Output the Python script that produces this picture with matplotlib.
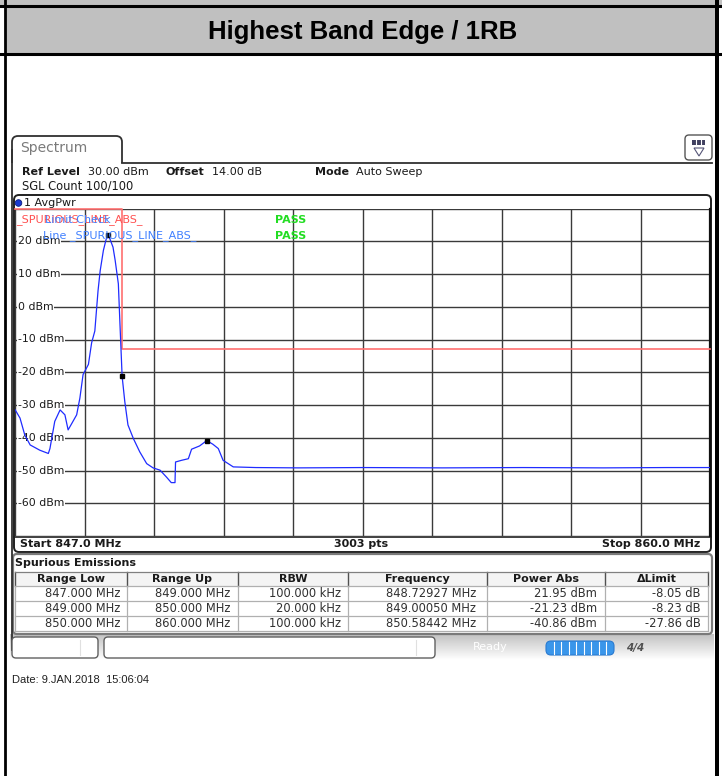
import numpy as np
import matplotlib
matplotlib.use("Agg")
import matplotlib.pyplot as plt
from matplotlib.patches import FancyBboxPatch, Rectangle, Circle, Polygon

W, H = 722, 776

# ---------------- data ----------------
title = "Highest Band Edge / 1RB"
freq_mhz = [847.00, 847.09, 847.18, 847.28, 847.46, 847.62, 847.65, 847.74, 847.84,
            847.93, 847.99, 848.06, 848.15, 848.21, 848.27, 848.37, 848.43, 848.49,
            848.52, 848.55, 848.59, 848.65, 848.70, 848.73, 848.77, 848.83, 848.87,
            848.93, 848.96, 849.0005, 849.05, 849.11, 849.21, 849.33, 849.46, 849.58,
            849.71, 849.83, 849.92, 849.99, 850.00, 850.11, 850.24, 850.30, 850.45,
            850.58442, 850.70, 850.80, 850.89, 851.08, 851.5, 852.3, 853.5, 855.0,
            856.5, 858.0, 859.2, 860.0]
power_dbm = [-31.5, -34.0, -39.2, -42.2, -43.8, -44.8, -43.3, -35.0, -31.5,
             -33.0, -37.6, -35.6, -33.0, -27.9, -20.7, -17.6, -11.0, -7.4,
             -1.2, 4.9, 11.0, 17.2, 20.5, 21.95, 20.8, 18.2, 14.2,
             7.0, -5.2, -21.23, -28.9, -36.1, -40.2, -44.3, -47.9, -49.2,
             -49.9, -52.0, -53.7, -53.7, -47.4, -46.9, -46.4, -43.5, -42.5,
             -40.86, -42.0, -43.3, -46.9, -48.9, -49.1, -49.2, -49.1, -49.2,
             -49.1, -49.2, -49.1, -49.1]
limit_freq = [847.0, 849.0, 849.0, 860.0]
limit_dbm = [30.0, 30.0, -13.0, -13.0]
marker_freq = [848.72927, 849.00050, 850.58442]
marker_dbm = [21.95, -21.23, -40.86]
y_ticks = [20, 10, 0, -10, -20, -30, -40, -50, -60]
y_tick_labels = ["20 dBm", "10 dBm", "0 dBm", "-10 dBm", "-20 dBm", "-30 dBm",
                 "-40 dBm", "-50 dBm", "-60 dBm"]
f_start, f_stop = 847.0, 860.0
ref_level, y_bottom = 30.0, -70.0

tbl_header = ["Range Low", "Range Up", "RBW", "Frequency", "Power Abs", "\u0394Limit"]
range_low = ["847.000 MHz", "849.000 MHz", "850.000 MHz"]
range_up = ["849.000 MHz", "850.000 MHz", "860.000 MHz"]
rbw = ["100.000 kHz", "20.000 kHz", "100.000 kHz"]
peak_freq = ["848.72927 MHz", "849.00050 MHz", "850.58442 MHz"]
power_abs = ["21.95 dBm", "-21.23 dBm", "-40.86 dBm"]
delta_limit = ["-8.05 dB", "-8.23 dB", "-27.86 dB"]

# ---------------- figure ----------------
fig = plt.figure(figsize=(W / 100, H / 100), dpi=100)
fig.patch.set_facecolor("white")
ax0 = fig.add_axes([0, 0, 1, 1])
ax0.set_xlim(0, W)
ax0.set_ylim(H, 0)
ax0.axis("off")

F = "DejaVu Sans"
A = "Liberation Sans"
FS = 8.0

# page frame / title bar
ax0.add_patch(Rectangle((0, 0), W, 7, color="#c0c0c0", lw=0))
ax0.add_patch(Rectangle((5, 7), 712, 47, color="#c0c0c0", lw=0))
ax0.plot([0, W], [6, 6], color="black", lw=2.2)
ax0.plot([0, W], [54, 54], color="black", lw=2.2)
ax0.plot([5, 5], [0, H], color="black", lw=2.0)
ax0.add_patch(Rectangle((715, 0), 4, H, color="black", lw=0, zorder=5))
ax0.text(363, 32, title, ha="center", va="center", fontsize=18.5, fontweight="bold",
         family=A, color="black")

# spectrum tab
tab = FancyBboxPatch((12, 136), 110, 40, boxstyle="round,pad=0,rounding_size=6",
                     fc="white", ec="#303030", lw=1.3)
ax0.add_patch(tab)
ax0.add_patch(Rectangle((10, 163), 704, 470, color="white", lw=0))
ax0.plot([122, 712], [162.5, 162.5], color="#303030", lw=1.3)
ax0.plot([12, 12], [150, 650], color="#303030", lw=1.3)
ax0.text(20, 148, "Spectrum", ha="left", va="center", fontsize=10, family=F, color="#7a7a7a")

# icon top right
ax0.add_patch(FancyBboxPatch((685, 135), 27, 25, boxstyle="round,pad=0,rounding_size=4",
                             fc="white", ec="#555555", lw=1.0))
ax0.add_patch(Rectangle((692, 140), 13, 5, color="#404060", lw=0))
for xs in (696.3, 700.6):
    ax0.plot([xs, xs], [140, 145], color="white", lw=0.8)
ax0.add_patch(Polygon([[694, 148], [704, 148], [699, 156]], closed=True, fc="white",
                      ec="#555577", lw=0.8))

# header info
def info(x, y, s, bold=False, **kw):
    ax0.text(x, y, s, ha=kw.pop("ha", "left"), va="center", fontsize=kw.pop("fs", FS),
             family=F, fontweight="bold" if bold else "normal",
             color=kw.pop("color", "#1a1a1a"), zorder=kw.pop("zorder", 3), **kw)

info(22, 172, "Ref Level", bold=True)
info(88, 172, "30.00 dBm")
info(166, 172, "Offset", bold=True)
info(212, 172, "14.00 dB")
info(315, 172, "Mode", bold=True)
info(356, 172, "Auto Sweep")
info(22, 186, "SGL Count 100/100", fs=8.3)

# diagram box
ax0.add_patch(FancyBboxPatch((14, 195), 697, 357, boxstyle="round,pad=0,rounding_size=5",
                             fc="white", ec="#202020", lw=1.4))
ax0.add_patch(Circle((18.5, 203), 3.3, fc="#1a3ad0", ec="#0a1a80", lw=0.6))
info(24, 203, "1 AvgPwr")
info(20, 544, "Start 847.0 MHz", bold=True)
info(361, 544, "3003 pts", bold=True, ha="center")
info(700, 544, "Stop 860.0 MHz", bold=True, ha="right")
ax0.plot([14, 711], [537, 537], color="#202020", lw=1.2)

# ---------------- main spectrum axes ----------------
L, R, T, B = 15.2, 710.0, 208.5, 536.0
ax = fig.add_axes([L / W, 1 - B / H, (R - L) / W, (B - T) / H])
ax.set_xlim(f_start, f_stop)
ax.set_ylim(y_bottom, ref_level)
ax.set_facecolor("white")
for s in ax.spines.values():
    s.set_visible(False)
ax.set_xticks([])
ax.set_yticks([])
for i in range(11):
    ax.axvline(f_start + i * (f_stop - f_start) / 10, color="#3a3a3a", lw=1.0, zorder=1)
for i in range(11):
    ax.axhline(y_bottom + i * 10, color="#3a3a3a", lw=1.0, zorder=1)
ax.plot([f_stop, f_stop], [y_bottom, ref_level], color="#101010", lw=1.6, zorder=1, clip_on=False)

for yv, lab in zip(y_ticks, y_tick_labels):
    ax.text(847.05, yv, lab, ha="left", va="center", fontsize=7.8, family=F,
            color="#1a1a1a", zorder=2,
            bbox=dict(boxstyle="square,pad=0.05", fc="white", ec="none"))

ax.plot(limit_freq, limit_dbm, color="#ff7070", lw=1.2, zorder=3, clip_on=False)
ax.plot(freq_mhz, power_dbm, color="#1f2cff", lw=0.9, zorder=4)
ax.plot(marker_freq, marker_dbm, ls="none", marker="s", ms=3.5, color="black", zorder=5)

ax.text(847.02, 26.6, "_SPURIOUS_LINE_ABS_", ha="left", va="center", fontsize=FS,
        family=F, color="#ff5050", zorder=6)
ax.text(847.55, 26.6, "Limit Check", ha="left", va="center", fontsize=FS,
        family=F, color="#4080ff", zorder=6)
ax.text(847.52, 21.7, "Line _SPURIOUS_LINE_ABS_", ha="left", va="center", fontsize=FS,
        family=F, color="#4080ff", zorder=6)
ax.text(851.86, 26.6, "PASS", ha="left", va="center", fontsize=FS, fontweight="bold",
        family=F, color="#22dd22", zorder=6)
ax.text(851.86, 21.7, "PASS", ha="left", va="center", fontsize=FS, fontweight="bold",
        family=F, color="#22dd22", zorder=6)

# ---------------- spurious emissions table ----------------
ax0.add_patch(FancyBboxPatch((13, 554), 699, 80, boxstyle="round,pad=0,rounding_size=4",
                             fc="white", ec="#7a7a7a", lw=1.6, zorder=1.2))
info(15, 563, "Spurious Emissions", bold=True)
seps = [15, 127, 238, 348, 487, 605, 708]
ax0.add_patch(Rectangle((15, 572), 693, 14, fc="#f4f4f4", ec="none", zorder=1.3))
for xs in seps:
    ax0.plot([xs, xs], [572, 586], color="#505050", lw=1.0, zorder=1.4)
    ax0.plot([xs, xs], [586, 631], color="#b0b0b0", lw=0.9, zorder=1.4)
for yy in (572, 586, 601, 616, 631):
    ax0.plot([15, 708], [yy, yy], color="#b0b0b0" if yy != 572 else "#808080", lw=0.9,
             zorder=1.4)
for i, h in enumerate(tbl_header):
    info((seps[i] + seps[i + 1]) / 2, 579, h, bold=True, ha="center")
rights = [120, 230, 341, 476, 597, 701]
cols = [range_low, range_up, rbw, peak_freq, power_abs, delta_limit]
for r in range(3):
    for c in range(6):
        info(rights[c], 593.5 + 15 * r, cols[c][r], ha="right", color="#303030", fs=8.3)

# ---------------- status bar ----------------
grad = np.linspace(0.76, 1.0, 50).reshape(-1, 1)
ax0.imshow(np.dstack([grad, grad, grad]), extent=(10, 714, 660, 634), aspect="auto",
           zorder=1.1)
ax0.add_patch(FancyBboxPatch((12, 637), 86, 21, boxstyle="round,pad=0,rounding_size=4",
                             fc="white", ec="#606060", lw=1.0, zorder=2))
ax0.add_patch(FancyBboxPatch((104, 637), 331, 21, boxstyle="round,pad=0,rounding_size=4",
                             fc="white", ec="#606060", lw=1.0, zorder=2))
ax0.plot([80, 80], [640, 655], color="#e0e0e0", lw=0.8, zorder=2.5)
ax0.plot([416, 416], [640, 655], color="#e0e0e0", lw=0.8, zorder=2.5)
ax0.text(490, 647, "Ready", ha="center", va="center", fontsize=8, family=F,
         color="white", zorder=3)
ax0.add_patch(FancyBboxPatch((546, 641), 68, 14, boxstyle="round,pad=0,rounding_size=5",
                             fc="#3a96ea", ec="#2a7ad0", lw=0.8, zorder=3))
for k in range(1, 9):
    xs = 546 + k * 68 / 9
    ax0.plot([xs, xs], [642, 654], color="white", lw=0.8, zorder=4)
ax0.text(635, 648, "4/4", ha="center", va="center", fontsize=7.5, fontweight="bold",
         style="italic", family=F, color="#505050", zorder=3)

# date
ax0.text(12, 680, "Date: 9.JAN.2018  15:06:04", ha="left", va="center", fontsize=8,
         family=A, color="#202020")

fig.savefig("out.png", dpi=100)
